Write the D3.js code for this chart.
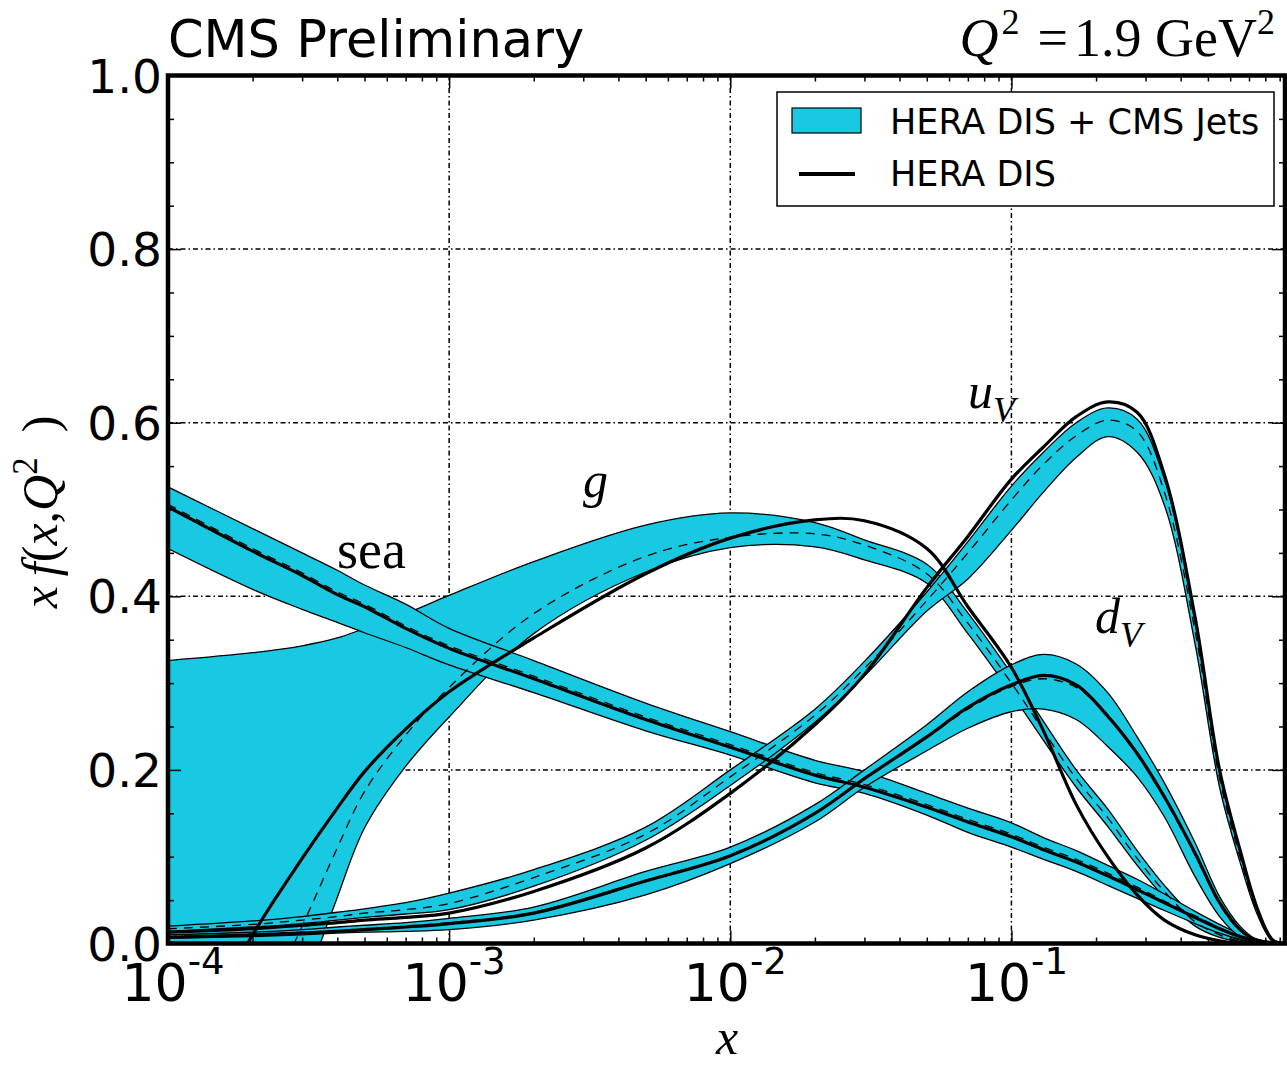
<!DOCTYPE html>
<html><head><meta charset="utf-8">
<script src="https://cdn.jsdelivr.net/npm/d3@7"></script>
<style>body{margin:0;background:#fff} svg{display:block}</style>
</head><body>
<svg id="c" width="1287" height="1067"></svg>
<script>
// ---------------- data ----------------
const xs = [1e-4, 2e-4, 3e-4, 4e-4, 5e-4, 7e-4, 1e-3, 2e-3, 5e-3, 1e-2, 2e-2, 3e-2, 5e-2, 7e-2, 0.1, 0.13, 0.17, 0.22, 0.28, 0.35, 0.45, 0.55, 0.65, 0.75, 0.85, 0.93];

// gluon
const gHi   = [0.326, 0.335, 0.343, 0.352, 0.363, 0.380, 0.401, 0.440, 0.482, 0.496, 0.485, 0.465, 0.437, 0.381, 0.311, 0.256, 0.200, 0.155, 0.107, 0.067, 0.030, 0.013, 0.004, 0.001, 0.000, 0.000];
const gLo   = [-0.40, -0.25, -0.06, 0.053, 0.133, 0.204, 0.261, 0.357, 0.428, 0.456, 0.457, 0.442, 0.415, 0.357, 0.288, 0.234, 0.180, 0.135, 0.090, 0.053, 0.020, 0.007, 0.002, 0.000, 0.000, 0.000];
const gCen  = [-0.30, -0.10, 0.020, 0.110, 0.175, 0.240, 0.295, 0.380, 0.446, 0.468, 0.472, 0.459, 0.426, 0.369, 0.300, 0.245, 0.190, 0.145, 0.098, 0.060, 0.025, 0.010, 0.003, 0.001, 0.000, 0.000];
const gHera = [-0.17, 0.010, 0.098, 0.156, 0.198, 0.247, 0.290, 0.352, 0.426, 0.467, 0.488, 0.487, 0.455, 0.388, 0.318, 0.245, 0.160, 0.100, 0.056, 0.027, 0.010, 0.003, 0.000, 0.000, 0.000, 0.000];

// sea
const sHi   = [0.526, 0.478, 0.450, 0.430, 0.413, 0.391, 0.363, 0.326, 0.277, 0.244, 0.211, 0.198, 0.173, 0.156, 0.139, 0.122, 0.107, 0.090, 0.074, 0.057, 0.037, 0.022, 0.011, 0.005, 0.001, 0.000];
const sLo   = [0.455, 0.408, 0.385, 0.370, 0.358, 0.341, 0.321, 0.289, 0.245, 0.217, 0.185, 0.173, 0.148, 0.128, 0.111, 0.097, 0.083, 0.067, 0.052, 0.038, 0.023, 0.012, 0.005, 0.001, 0.000, 0.000];
const sCen  = [0.506, 0.455, 0.427, 0.405, 0.391, 0.366, 0.343, 0.308, 0.261, 0.229, 0.197, 0.183, 0.160, 0.143, 0.126, 0.111, 0.097, 0.081, 0.065, 0.049, 0.032, 0.018, 0.009, 0.003, 0.001, 0.000];
const sHera = [0.503, 0.452, 0.424, 0.402, 0.388, 0.363, 0.340, 0.305, 0.258, 0.226, 0.194, 0.180, 0.157, 0.140, 0.123, 0.108, 0.094, 0.078, 0.062, 0.047, 0.030, 0.017, 0.008, 0.003, 0.001, 0.000];

// u valence
const uHi   = [0.020, 0.026, 0.031, 0.036, 0.040, 0.047, 0.058, 0.085, 0.134, 0.200, 0.270, 0.325, 0.405, 0.463, 0.527, 0.566, 0.600, 0.617, 0.604, 0.535, 0.370, 0.197, 0.105, 0.038, 0.004, 0.000];
const uCen  = [0.017, 0.022, 0.027, 0.031, 0.035, 0.039, 0.046, 0.076, 0.126, 0.192, 0.263, 0.317, 0.395, 0.450, 0.511, 0.552, 0.585, 0.603, 0.590, 0.520, 0.360, 0.190, 0.100, 0.036, 0.003, 0.000];
const uLo   = [0.014, 0.019, 0.023, 0.027, 0.030, 0.034, 0.039, 0.066, 0.119, 0.182, 0.255, 0.308, 0.383, 0.420, 0.476, 0.520, 0.560, 0.584, 0.566, 0.505, 0.345, 0.180, 0.094, 0.033, 0.002, 0.000];
const uHera = [0.013, 0.017, 0.021, 0.024, 0.027, 0.030, 0.035, 0.060, 0.110, 0.173, 0.252, 0.310, 0.410, 0.469, 0.535, 0.572, 0.607, 0.624, 0.612, 0.540, 0.376, 0.200, 0.108, 0.040, 0.004, 0.000];

// d valence
const dHi   = [0.010, 0.013, 0.016, 0.019, 0.021, 0.024, 0.029, 0.042, 0.083, 0.111, 0.160, 0.200, 0.252, 0.290, 0.321, 0.333, 0.322, 0.289, 0.238, 0.185, 0.116, 0.054, 0.020, 0.004, 0.000, 0.000];
const dCen  = [0.008, 0.011, 0.013, 0.015, 0.017, 0.020, 0.024, 0.036, 0.073, 0.102, 0.150, 0.190, 0.237, 0.270, 0.296, 0.305, 0.295, 0.262, 0.217, 0.167, 0.102, 0.045, 0.015, 0.003, 0.000, 0.000];
const dLo   = [0.006, 0.008, 0.010, 0.012, 0.013, 0.014, 0.016, 0.027, 0.056, 0.092, 0.140, 0.180, 0.222, 0.248, 0.267, 0.270, 0.258, 0.227, 0.192, 0.146, 0.077, 0.031, 0.008, 0.001, 0.000, 0.000];
const dHera = [0.007, 0.010, 0.012, 0.014, 0.016, 0.019, 0.023, 0.035, 0.072, 0.101, 0.150, 0.190, 0.238, 0.272, 0.298, 0.309, 0.298, 0.262, 0.219, 0.169, 0.104, 0.047, 0.016, 0.003, 0.000, 0.000];

const xMajor = [1e-4, 1e-3, 1e-2, 1e-1];
const xMajorExp = ["-4", "-3", "-2", "-1"];
const yMajor = [0, 0.2, 0.4, 0.6, 0.8, 1.0];
const yLabels = ["0.0", "0.2", "0.4", "0.6", "0.8", "1.0"];
const legendLabels = ["HERA DIS + CMS Jets", "HERA DIS"];

// ---------------- layout ----------------
const L = 168, R = 1285, T = 75.5, B = 943.5;
const CY = "#19c9e1";
const SANS = "'DejaVu Sans', Verdana, sans-serif";
const SERIF = "'Liberation Serif', 'DejaVu Serif', serif";

const x = d3.scaleLog().domain([1e-4, 0.94]).range([L, R]);
const y = d3.scaleLinear().domain([0, 1]).range([B, T]);

const svg = d3.select("#c");
svg.append("rect").attr("width", 1287).attr("height", 1067).attr("fill", "#fff");
svg.append("defs").append("clipPath").attr("id", "clip")
  .append("rect").attr("x", L).attr("y", T).attr("width", R - L).attr("height", B - T);

// grid
const grid = svg.append("g").attr("stroke", "#000").attr("stroke-width", 1.5)
  .attr("stroke-dasharray", "5,3,1.5,3").attr("fill", "none");
xMajor.slice(1).forEach(v => grid.append("line").attr("x1", x(v)).attr("x2", x(v)).attr("y1", T).attr("y2", B));
yMajor.slice(1, -1).forEach(v => grid.append("line").attr("x1", L).attr("x2", R).attr("y1", y(v)).attr("y2", y(v)));

// curves
const idx = d3.range(xs.length);
const CURVE = d3.curveCatmullRom.alpha(0.5);
const lineGen = arr => d3.line().x(i => x(xs[i])).y(i => y(arr[i])).curve(CURVE)(idx);
const areaGen = (lo, hi) => d3.area().x(i => x(xs[i])).y0(i => y(lo[i])).y1(i => y(hi[i])).curve(CURVE)(idx);

const plot = svg.append("g").attr("clip-path", "url(#clip)");
const pdfs = [
  {lo: gLo, hi: gHi, cen: gCen, hera: gHera},
  {lo: sLo, hi: sHi, cen: sCen, hera: sHera},
  {lo: uLo, hi: uHi, cen: uCen, hera: uHera},
  {lo: dLo, hi: dHi, cen: dCen, hera: dHera}
];
pdfs.forEach(p => {
  plot.append("path").attr("d", areaGen(p.lo, p.hi)).attr("fill", CY).attr("stroke", "none");
  plot.append("path").attr("d", lineGen(p.hi)).attr("fill", "none").attr("stroke", "#000").attr("stroke-width", 1.3);
  plot.append("path").attr("d", lineGen(p.lo)).attr("fill", "none").attr("stroke", "#000").attr("stroke-width", 1.3);
});
pdfs.forEach(p => {
  plot.append("path").attr("d", lineGen(p.hera)).attr("fill", "none").attr("stroke", "#000").attr("stroke-width", 3.2);
});
pdfs.forEach(p => {
  plot.append("path").attr("d", lineGen(p.cen)).attr("fill", "none").attr("stroke", "#000")
    .attr("stroke-width", 1.3).attr("stroke-dasharray", "9,7");
});

// ticks via d3 axes
const xMinor = [];
for (let e = -4; e < 0; e++) for (let m = 2; m <= 9; m++) { const v = m * Math.pow(10, e); if (v <= 0.94) xMinor.push(v); }
const yMinor = d3.range(0, 1.0001, 0.05).filter(v => Math.abs(v * 5 - Math.round(v * 5)) > 1e-6);

function addAxis(axis, tr) {
  const g = svg.append("g").attr("transform", tr).call(axis);
  g.select(".domain").remove();
  g.selectAll("line").attr("stroke", "#000").attr("stroke-width", 1.5);
  g.selectAll("text").remove();
}
addAxis(d3.axisBottom(x).tickValues(xMajor).tickSize(-13), `translate(0,${B})`);
addAxis(d3.axisBottom(x).tickValues(xMinor).tickSize(-6), `translate(0,${B})`);
addAxis(d3.axisTop(x).tickValues(xMajor).tickSize(-13), `translate(0,${T})`);
addAxis(d3.axisTop(x).tickValues(xMinor).tickSize(-6), `translate(0,${T})`);
addAxis(d3.axisLeft(y).tickValues(yMajor).tickSize(-13), `translate(${L},0)`);
addAxis(d3.axisLeft(y).tickValues(yMinor).tickSize(-6), `translate(${L},0)`);
addAxis(d3.axisRight(y).tickValues(yMajor).tickSize(-13), `translate(${R},0)`);
addAxis(d3.axisRight(y).tickValues(yMinor).tickSize(-6), `translate(${R},0)`);

// frame
svg.append("rect").attr("x", L).attr("y", T).attr("width", R - L).attr("height", B - T)
  .attr("fill", "none").attr("stroke", "#000").attr("stroke-width", 4.5);

// y tick labels
yMajor.forEach((v, i) => {
  svg.append("text").attr("x", L - 6).attr("y", y(v) + 17).attr("text-anchor", "end")
    .attr("font-family", SANS).attr("font-size", 47).attr("fill", "#000").text(yLabels[i]);
});
// x tick labels
xMajor.forEach((v, i) => {
  const t = svg.append("text").attr("x", x(v) + 5).attr("y", 1001).attr("text-anchor", "middle")
    .attr("font-family", SANS).attr("font-size", 52).attr("fill", "#000");
  t.append("tspan").text("10");
  t.append("tspan").attr("dy", -27).attr("font-size", 37).text(xMajorExp[i]);
});

// title and Q2
svg.append("text").attr("x", L).attr("y", 57).attr("font-family", SANS).attr("font-size", 51)
  .attr("fill", "#000").text("CMS Preliminary");
const q = svg.append("text").attr("x", 1275).attr("y", 56).attr("text-anchor", "end")
  .attr("font-family", SERIF).attr("font-size", 54).attr("fill", "#000");
q.append("tspan").attr("font-style", "italic").text("Q");
q.append("tspan").attr("dy", -22).attr("dx", 3).attr("font-size", 36).text("2");
q.append("tspan").attr("dy", 22).attr("dx", 18).text("=");
q.append("tspan").attr("dx", 6).text("1.9 GeV");
q.append("tspan").attr("dy", -22).attr("font-size", 36).text("2");

// axis titles
svg.append("text").attr("x", 727).attr("y", 1054).attr("text-anchor", "middle")
  .attr("font-family", SERIF).attr("font-size", 50).attr("font-style", "italic").attr("fill", "#000").text("x");
const yl = svg.append("text").attr("transform", "translate(57,512) rotate(-90)").attr("text-anchor", "middle")
  .attr("font-family", SERIF).attr("font-size", 50).attr("fill", "#000");
yl.append("tspan").attr("font-style", "italic").text("x\u2009f");
yl.append("tspan").text("(");
yl.append("tspan").attr("font-style", "italic").text("x");
yl.append("tspan").text(",");
yl.append("tspan").attr("font-style", "italic").text("Q");
yl.append("tspan").attr("dy", -20).attr("font-size", 35).text("2");
yl.append("tspan").attr("dy", 20).text("\u2002)");

// curve labels
function lab(xp, yp, main, sub, italic, fs) {
  const t = svg.append("text").attr("x", xp).attr("y", yp).attr("font-family", SERIF)
    .attr("font-size", fs).attr("fill", "#000");
  t.append("tspan").attr("font-style", italic ? "italic" : "normal").text(main);
  if (sub) t.append("tspan").attr("dy", 14).attr("font-size", 36).attr("font-style", "italic").text(sub);
}
lab(583, 497, "g", null, true, 50);
lab(337, 568, "sea", null, false, 54);
lab(968, 408, "u", "V", true, 50);
lab(1095, 633, "d", "V", true, 50);

// legend
const lg = svg.append("g");
lg.append("rect").attr("x", 777).attr("y", 92).attr("width", 497).attr("height", 114)
  .attr("fill", "#fff").attr("stroke", "#000").attr("stroke-width", 1.5);
lg.append("rect").attr("x", 792).attr("y", 108).attr("width", 69).attr("height", 25)
  .attr("fill", CY).attr("stroke", "#000").attr("stroke-width", 1.2);
lg.append("line").attr("x1", 799).attr("x2", 855).attr("y1", 174).attr("y2", 174)
  .attr("stroke", "#000").attr("stroke-width", 4);
lg.append("text").attr("x", 890).attr("y", 134).attr("font-family", SANS).attr("font-size", 35)
  .attr("fill", "#000").text(legendLabels[0]);
lg.append("text").attr("x", 890).attr("y", 186).attr("font-family", SANS).attr("font-size", 35)
  .attr("fill", "#000").text(legendLabels[1]);
</script>
</body></html>
